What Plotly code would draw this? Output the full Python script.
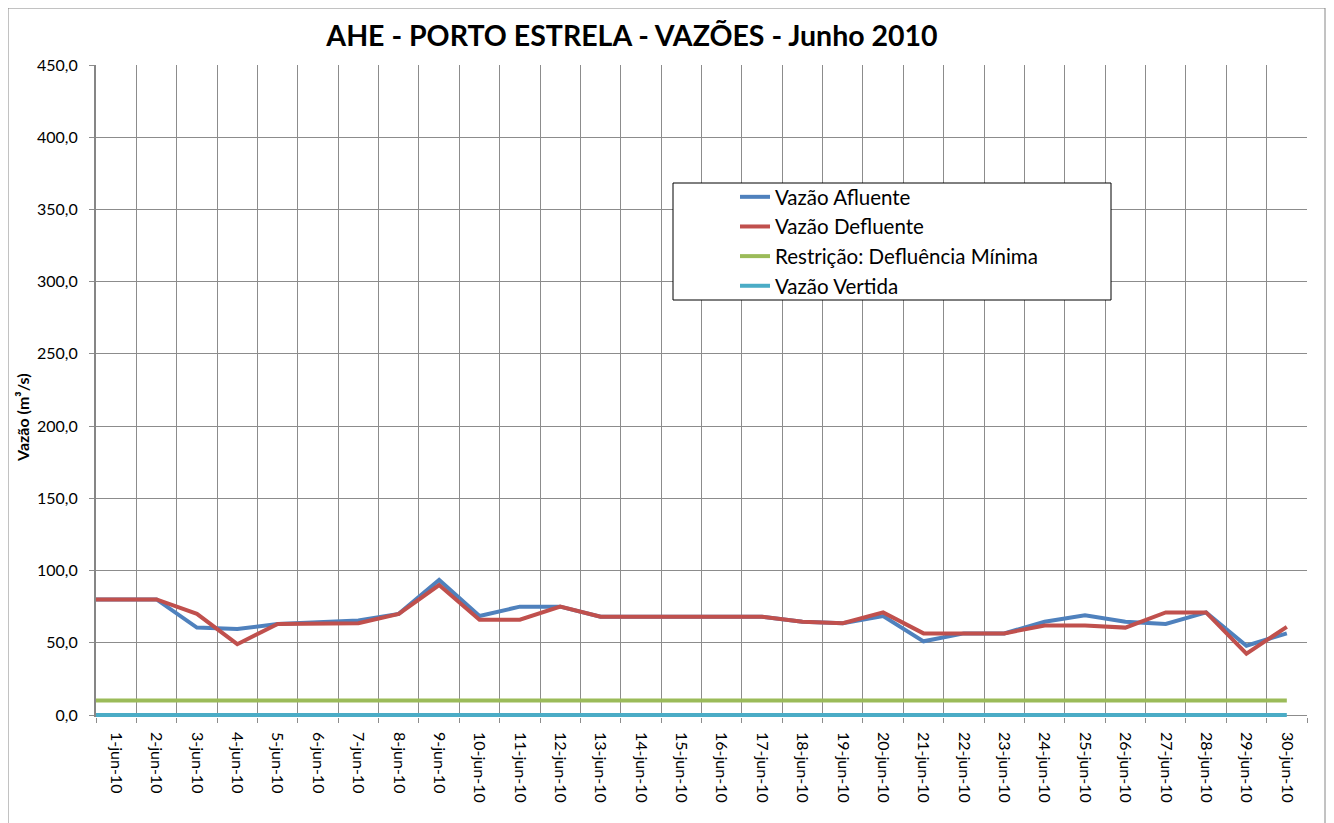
import plotly.graph_objects as go

# dia 0 = 31-mai (ponto anterior, fica cortado na borda do eixo)
dias = list(range(0, 31))
rotulos = [f"{d}-jun-10" for d in range(1, 31)]

vazao_afluente = [80, 80, 80, 60.5, 59.5, 63, 64, 65.5, 70, 93.5, 68.5,
                  75, 75, 68, 68, 68, 68, 68, 64.5, 63.5, 68.5,
                  51, 56.5, 56.5, 64.5, 69, 64.5, 63, 71, 48, 56.5]
vazao_defluente = [80, 80, 80, 70, 49, 63, 63.5, 63.5, 70, 90, 66,
                   66, 75, 68, 68, 68, 68, 68, 64.5, 63.5, 71,
                   56.5, 56.5, 56.5, 62, 62, 60.5, 71, 71, 42.5, 61]
defluencia_minima = [10] * 31
vazao_vertida = [0] * 31

FONTE = "Lato"
GRADE = "#8c8c8c"

fig = go.Figure()
series = [
    ("Vazão Afluente", vazao_afluente, "#4F81BD"),
    ("Vazão Defluente", vazao_defluente, "#C0504D"),
    ("Restrição: Defluência Mínima", defluencia_minima, "#9BBB59"),
    ("Vazão Vertida", vazao_vertida, "#4BACC6"),
]
for nome, valores, cor in series:
    fig.add_trace(go.Scatter(x=dias, y=valores, name=nome, mode="lines",
                             line=dict(color=cor, width=4)))

# a pagina tem margem de 8px no body: tudo em px da janela, descontado
OFF = 8
W, H = 1334 - OFF, 823 - OFF
# area do grafico (px da janela); embaixo 2px a mais para a linha do zero nao ser cortada
esq, dir_, topo, base = 96, 1307, 65, 717
Y_MIN = -2 * 450 / 650
L, R, T, B = esq - OFF, W - (dir_ - OFF), topo - OFF, H - (base - OFF)
pw, ph = W - L - R, H - T - B


def px_x(x):
    return (x - OFF - L) / pw


def px_y(y):
    return (H - B - (y - OFF)) / ph


fig.update_layout(
    width=W, height=H,
    margin=dict(l=L, r=R, t=T, b=B, autoexpand=False),
    plot_bgcolor="white", paper_bgcolor="white",
    separators=",.",
    font=dict(family=FONTE, color="black"),
    title=dict(text="<b>AHE - PORTO ESTRELA - VAZÕES - Junho 2010</b>",
               x=(632 - OFF) / W, xanchor="center", xref="container",
               y=1 - (36 - OFF) / H, yanchor="middle",
               font=dict(size=28.5, family=FONTE)),
    showlegend=True,
    legend=dict(x=px_x(735), y=px_y(177), xanchor="left", yanchor="top",
                bgcolor="rgba(0,0,0,0)", borderwidth=0,
                font=dict(size=20.5, family=FONTE)),
    xaxis=dict(range=[0.5, 30.5], tickmode="array", tickvals=list(range(1, 31)),
               ticktext=rotulos, tickangle=90, ticks="", showgrid=False,
               zeroline=False, showline=False, ticklabelstandoff=14,
               tickfont=dict(size=16), automargin=False,
               minor=dict(tickmode="array", tickvals=[d + 0.5 for d in range(0, 31)],
                          showgrid=True, gridcolor=GRADE, gridwidth=1,
                          ticks="outside", ticklen=5, tickcolor=GRADE)),
    yaxis=dict(range=[Y_MIN, 450], tickmode="array", tickvals=list(range(0, 451, 50)),
               tickformat=".1f", ticks="outside",
               ticklen=5, tickcolor=GRADE, showgrid=True, gridcolor=GRADE,
               gridwidth=1, showline=True, linecolor="#868686", linewidth=2,
               zeroline=False, tickfont=dict(size=16), ticklabelstandoff=8,
               automargin=False),
    shapes=[
        dict(type="rect", xref="paper", yref="paper",
             x0=px_x(673), x1=px_x(1111), y0=px_y(300), y1=px_y(183),
             fillcolor="white", line=dict(color="black", width=1), layer="above"),
        dict(type="rect", xref="paper", yref="paper",
             x0=px_x(8), x1=px_x(1325), y0=px_y(835), y1=px_y(8),
             fillcolor="rgba(0,0,0,0)", line=dict(color="#868686", width=1)),
    ],
    annotations=[
        dict(text="<b>Vazão (m³/s)</b>", xref="paper", yref="paper",
             x=px_x(22), y=px_y(418), xanchor="center", yanchor="middle",
             textangle=-90, showarrow=False,
             font=dict(size=16, family=FONTE)),
    ],
)

fig.write_html("out.html")
